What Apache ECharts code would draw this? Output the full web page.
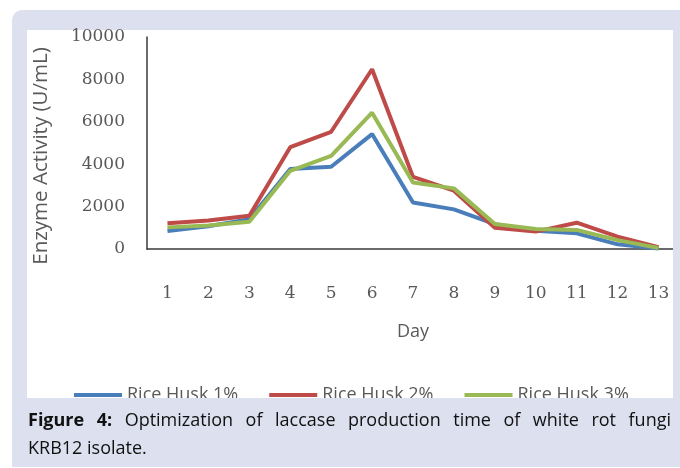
<!DOCTYPE html>
<html>
<head>
<meta charset="utf-8">
<script src="https://cdn.jsdelivr.net/npm/echarts@6/dist/echarts.min.js"></script>
<style>
html,body{margin:0;padding:0;background:#fff;}
#wrap{position:relative;width:680px;height:468px;}
#chart{position:absolute;left:0;top:0;width:680px;height:468px;}
.cap{position:absolute;left:28px;width:643px;font-family:"Open Sans",sans-serif;font-size:18px;line-height:28px;color:#111;white-space:nowrap;}
#cap1{top:405px;text-align:justify;text-align-last:justify;white-space:normal;}
#cap2{top:433px;}
</style>
</head>
<body>
<div id="wrap">
<div id="chart"></div>
<div class="cap" id="cap1"><b>Figure 4:</b> Optimization of laccase production time of white rot fungi</div>
<div class="cap" id="cap2">KRB12 isolate.</div>
</div>
<script>
var days = ['1','2','3','4','5','6','7','8','9','10','11','12','13'];
var husk1 = [850, 1070, 1400, 3770, 3880, 5420, 2190, 1870, 1170, 860, 740, 220, 20];
var husk2 = [1210, 1340, 1570, 4800, 5530, 8480, 3400, 2750, 1000, 820, 1240, 580, 80];
var husk3 = [1020, 1110, 1290, 3690, 4390, 6430, 3140, 2860, 1180, 940, 900, 420, 50];
var seriesNames = ['Rice Husk 1%', 'Rice Husk 2%', 'Rice Husk 3%'];
var yTicks = {min: 0, max: 10000, interval: 2000};

var colors = ['#4a7ebb', '#be4b48', '#98b954'];
var lavender = '#dde0ee';
var chart = echarts.init(document.getElementById('chart'));
function mk(name, data, c){
  return {name: name, type: 'line', data: data, symbol: 'none', showSymbol: false,
    lineStyle: {color: c, width: 4}, itemStyle: {color: c}, z: 2, animation: false};
}
chart.setOption({
  animation: false,
  backgroundColor: 'transparent',
  grid: {left: 147, right: 1, top: 37, bottom: 468 - 249, containLabel: false},
  xAxis: {
    type: 'category', data: days, boundaryGap: true,
    axisLine: {lineStyle: {color: '#3a3a3a', width: 1.5}},
    axisTick: {show: false},
    axisLabel: {margin: 36, fontFamily: 'DejaVu Serif', fontSize: 17, color: '#595959'},
    name: 'Day', nameLocation: 'middle', nameGap: 74,
    nameTextStyle: {fontFamily: 'Open Sans', fontSize: 18, color: '#595959'},
    splitLine: {show: false}
  },
  yAxis: {
    type: 'value', min: yTicks.min, max: yTicks.max, interval: yTicks.interval,
    axisLine: {show: true, lineStyle: {color: '#3a3a3a', width: 1.5}},
    axisTick: {show: false},
    splitLine: {show: false},
    axisLabel: {margin: 22, fontFamily: 'DejaVu Serif', fontSize: 17, color: '#595959',
      formatter: function (v) { return String(v); }}
  },
  legend: {
    left: 69, top: 381, icon: 'rect', itemWidth: 48, itemHeight: 4, itemGap: 31,
    textStyle: {fontFamily: 'Open Sans', fontSize: 18, color: '#595959'},
    data: seriesNames
  },
  graphic: [
    {type: 'rect', z: -10, shape: {x: 12, y: 10, width: 680, height: 457, r: [10, 0, 0, 0]}, style: {fill: lavender}, silent: true},
    {type: 'rect', z: -9, shape: {x: 27, y: 30, width: 646, height: 368}, style: {fill: '#ffffff'}, silent: true},
    {type: 'rect', z: 50, shape: {x: 12, y: 398, width: 668, height: 69}, style: {fill: lavender}, silent: true},
    {type: 'rect', z: 50, shape: {x: 673, y: 10, width: 7, height: 457}, style: {fill: lavender}, silent: true},
    {type: 'text', z: 5, x: 41, y: 156, rotation: Math.PI / 2,
      style: {text: 'Enzyme Activity (U/mL)', fontFamily: 'Open Sans', fontSize: 20.5, fill: '#595959', align: 'center', verticalAlign: 'middle'}}
  ],
  series: [mk(seriesNames[0], husk1, colors[0]), mk(seriesNames[1], husk2, colors[1]), mk(seriesNames[2], husk3, colors[2])]
});
</script>
</body>
</html>
